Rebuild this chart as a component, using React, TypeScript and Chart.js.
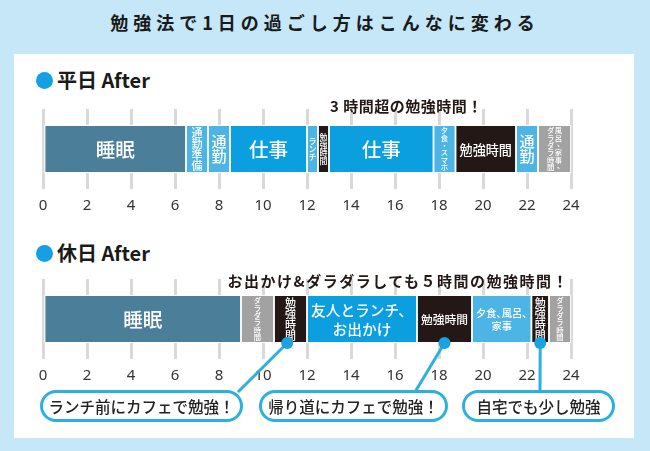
import React, { useEffect, useRef } from "react";
import { Chart, registerables } from "chart.js";

Chart.register(...registerables);

// ---------- data ----------
const HOUR_TICKS = [0, 2, 4, 6, 8, 10, 12, 14, 16, 18, 20, 22, 24];

const WEEKDAY_ROW = "平日 After";
const WEEKDAY_BOUNDS = [0, 6.5, 7.5, 8.5, 12, 12.5, 13, 17.75, 18.75, 21.5, 22.5, 24];
const WEEKDAY_LABELS = [
  "睡眠",
  "通勤準備",
  "通勤",
  "仕事",
  "ランチ",
  "勉強時間",
  "仕事",
  "夕食・スマホ",
  "勉強時間",
  "通勤",
  "風呂、家事、\nダラダラ時間",
];
const WEEKDAY_KINDS = ["sleep", "move", "move", "work", "move", "study", "work", "move", "study", "move", "free"];
const WEEKDAY_NOTE = "3 時間超の勉強時間！";

const HOLIDAY_ROW = "休日 After";
const HOLIDAY_BOUNDS = [0, 9, 10.5, 12, 17, 19.5, 22.2, 23, 24];
const HOLIDAY_LABELS = [
  "睡眠",
  "ダラダラ時間",
  "勉強時間",
  "友人とランチ、\nお出かけ",
  "勉強時間",
  "夕食､風呂､\n家事",
  "勉強時間",
  "ダラダラ時間",
];
const HOLIDAY_KINDS = ["sleep", "free", "study", "work", "study", "move", "study", "free"];
const HOLIDAY_NOTE = "お出かけ&ダラダラしても５時間の勉強時間！";

const CALLOUT_HOURS = [11.1, 18.25, 22.6];
const CALLOUT_TEXTS = ["ランチ前にカフェで勉強！", "帰り道にカフェで勉強！", "自宅でも少し勉強"];

const TITLE = "勉強法で1日の過ごし方はこんなに変わる";

// ---------- style ----------
const FONT = '"Noto Sans CJK JP", "Noto Sans", sans-serif';
const KIND_COLORS: Record<string, string> = {
  sleep: "#4b7e98",
  move: "#4cb5e6",
  work: "#0b9fe0",
  study: "#231815",
  free: "#a2a2a2",
};
const ACCENT = "#2cb0e0";

// callout box layout (page coordinates)
const CALLOUT_BOXES = [
  { left: 40, width: 203, anchorX: 238 },
  { left: 259, width: 189, anchorX: 415 },
  { left: 462, width: 153, anchorX: 540 },
];
const CALLOUT_TOP = 390;

function segmentLabelPlugin(labels: string[]) {
  return {
    id: "segmentLabels",
    afterDatasetsDraw(chart: any) {
      const ctx = chart.ctx as CanvasRenderingContext2D;
      const meta = chart.getDatasetMeta(0);
      meta.data.forEach((el: any, i: number) => {
        const p = el.getProps(["x", "y", "base", "height"], true);
        const left = Math.min(p.x, p.base);
        const right = Math.max(p.x, p.base);
        const w = right - left;
        const h = p.height;
        const cx = (left + right) / 2;
        const cy = p.y;
        const lines = labels[i].split("\n");
        ctx.save();
        ctx.fillStyle = "#ffffff";
        ctx.textAlign = "center";
        ctx.textBaseline = "middle";
        if (w >= 40) {
          ctx.font = `500 10px ${FONT}`;
          const widest = Math.max(...lines.map((l) => ctx.measureText(l).width));
          const size = Math.min(19.5, ((w - 8) * 10) / widest, (h - 8) / (lines.length * 1.2));
          ctx.font = `500 ${size}px ${FONT}`;
          const lh = size * 1.25;
          lines.forEach((l, j) => ctx.fillText(l, cx, cy + (j - (lines.length - 1) / 2) * lh + 1));
        } else {
          const cols = lines.map((l) => Array.from(l));
          const n = Math.max(...cols.map((c) => c.length));
          const size = Math.min(15, (h - 4) / n, (w - 3) / cols.length);
          ctx.font = `500 ${size}px ${FONT}`;
          const colW = size * 1.05;
          const total = cols.length * colW;
          const top = cy - (n * size) / 2;
          cols.forEach((chars, c) => {
            const x = cx + total / 2 - (c + 0.5) * colW;
            chars.forEach((ch, j) => {
              let dx = 0;
              let dy = 0;
              if (ch === "、" || ch === "。") {
                dx = size * 0.3;
                dy = -size * 0.3;
              }
              ctx.fillText(ch, x + dx, top + (j + 0.5) * size + dy);
            });
          });
        }
        ctx.restore();
      });
    },
  };
}

function calloutPlugin(canvasTop: number) {
  return {
    id: "callouts",
    afterDraw(chart: any) {
      const ctx = chart.ctx as CanvasRenderingContext2D;
      const xs = chart.scales.x;
      const bar = chart.getDatasetMeta(0).data[0];
      const bottom = bar.y + bar.height / 2;
      CALLOUT_HOURS.forEach((hour, i) => {
        const px = xs.getPixelForValue(hour);
        const tx = CALLOUT_BOXES[i].anchorX;
        const ty = CALLOUT_TOP + 2 - canvasTop;
        ctx.save();
        ctx.strokeStyle = ACCENT;
        ctx.lineWidth = 3;
        ctx.beginPath();
        ctx.moveTo(px, bottom);
        ctx.lineTo(tx, ty);
        ctx.stroke();
        ctx.fillStyle = "#1aa2e1";
        ctx.beginPath();
        ctx.arc(px, bottom, 6, 0, Math.PI * 2);
        ctx.fill();
        ctx.restore();
      });
    },
  };
}

type RowProps = {
  top: number;
  height: number;
  padTop: number;
  padBottom: number;
  row: string;
  bounds: number[];
  labels: string[];
  kinds: string[];
  callouts?: boolean;
};

function BarRow(props: RowProps) {
  const ref = useRef<HTMLCanvasElement>(null);
  useEffect(() => {
    const { bounds, labels, kinds, row } = props;
    const data = labels.map((_, i) => ({ x: [bounds[i], bounds[i + 1]], y: row }));
    const plugins: any[] = [segmentLabelPlugin(labels)];
    if (props.callouts) plugins.push(calloutPlugin(props.top));
    const chart = new Chart(ref.current as HTMLCanvasElement, {
      type: "bar",
      data: {
        labels: [row],
        datasets: [
          {
            data: data as any,
            backgroundColor: kinds.map((k) => KIND_COLORS[k]),
            borderColor: "#ffffff",
            borderWidth: 1.25,
            borderSkipped: false,
            barThickness: 48,
          } as any,
        ],
      },
      options: {
        indexAxis: "y",
        animation: false,
        responsive: false,
        maintainAspectRatio: false,
        layout: { padding: { left: 43, right: 79, top: props.padTop, bottom: props.padBottom } },
        plugins: { legend: { display: false }, tooltip: { enabled: false } },
        scales: {
          x: {
            type: "linear",
            min: 0,
            max: 24,
            afterBuildTicks: (scale: any) => {
              scale.ticks = HOUR_TICKS.map((v) => ({ value: v }));
            },
            grid: { color: "#d9d9d9", lineWidth: 3, drawTicks: false },
            border: { display: false },
            ticks: {
              padding: 8,
              color: "#333333",
              autoSkip: false,
              maxRotation: 0,
              font: { family: '"Noto Sans", sans-serif', size: 15 },
            },
          },
          y: { display: false },
        },
      } as any,
      plugins,
    });
    return () => chart.destroy();
  }, []);
  return (
    <canvas
      ref={ref}
      width={650}
      height={props.height}
      style={{ position: "absolute", left: 0, top: props.top, width: 650, height: props.height }}
    />
  );
}

function Header({ top, text }: { top: number; text: string }) {
  return (
    <>
      <div
        style={{
          position: "absolute",
          left: 36,
          top: top + 1,
          width: 17,
          height: 17,
          borderRadius: "50%",
          background: "#14a0e4",
        }}
      />
      <div
        style={{
          position: "absolute",
          left: 57,
          top: top - 2,
          fontFamily: FONT,
          fontWeight: 700,
          fontSize: 20,
          lineHeight: "22px",
          color: "#1a1a1a",
          whiteSpace: "nowrap",
        }}
      >
        {text}
      </div>
    </>
  );
}

export default function App() {
  return (
    <div
      style={{
        position: "absolute",
        left: 0,
        top: 0,
        width: 650,
        height: 451,
        background: "#c6e7f8",
        overflow: "hidden",
        fontFamily: FONT,
      }}
    >
      <div
        style={{
          position: "absolute",
          left: 0,
          top: 10,
          width: 650,
          textAlign: "center",
          fontWeight: 700,
          fontSize: 18,
          lineHeight: "24px",
          letterSpacing: 5,
          color: "#1a1a1a",
        }}
      >
        {TITLE}
      </div>
      <div
        style={{ position: "absolute", left: 14, top: 54, width: 620, height: 384, background: "#ffffff" }}
      />
      <Header top={71} text={WEEKDAY_ROW} />
      <BarRow
        top={95}
        height={133}
        padTop={14}
        padBottom={5}
        row={WEEKDAY_ROW}
        bounds={WEEKDAY_BOUNDS}
        labels={WEEKDAY_LABELS}
        kinds={WEEKDAY_KINDS}
      />
      <div
        style={{
          position: "absolute",
          left: 330,
          top: 96,
          fontWeight: 700,
          fontSize: 15,
          lineHeight: "20px",
          color: "#231815",
          whiteSpace: "nowrap",
          letterSpacing: 0.5,
        }}
      >
        {WEEKDAY_NOTE}
      </div>
      <Header top={244} text={HOLIDAY_ROW} />
      <BarRow
        top={265}
        height={130}
        padTop={14}
        padBottom={2}
        row={HOLIDAY_ROW}
        bounds={HOLIDAY_BOUNDS}
        labels={HOLIDAY_LABELS}
        kinds={HOLIDAY_KINDS}
        callouts
      />
      <div
        style={{
          position: "absolute",
          right: 650 - 569,
          top: 271,
          fontWeight: 700,
          fontSize: 15,
          lineHeight: "20px",
          color: "#231815",
          whiteSpace: "nowrap",
          letterSpacing: 1.5,
        }}
      >
        {HOLIDAY_NOTE}
      </div>
      {CALLOUT_TEXTS.map((t, i) => (
        <div
          key={t}
          style={{
            position: "absolute",
            left: CALLOUT_BOXES[i].left,
            top: CALLOUT_TOP,
            width: CALLOUT_BOXES[i].width,
            height: 32,
            boxSizing: "border-box",
            border: `3px solid ${ACCENT}`,
            borderRadius: 16,
            background: "#ffffff",
            display: "flex",
            alignItems: "center",
            justifyContent: "center",
            fontWeight: 500,
            fontSize: 15.5,
            color: "#222222",
            whiteSpace: "nowrap",
          }}
        >
          {t}
        </div>
      ))}
    </div>
  );
}
